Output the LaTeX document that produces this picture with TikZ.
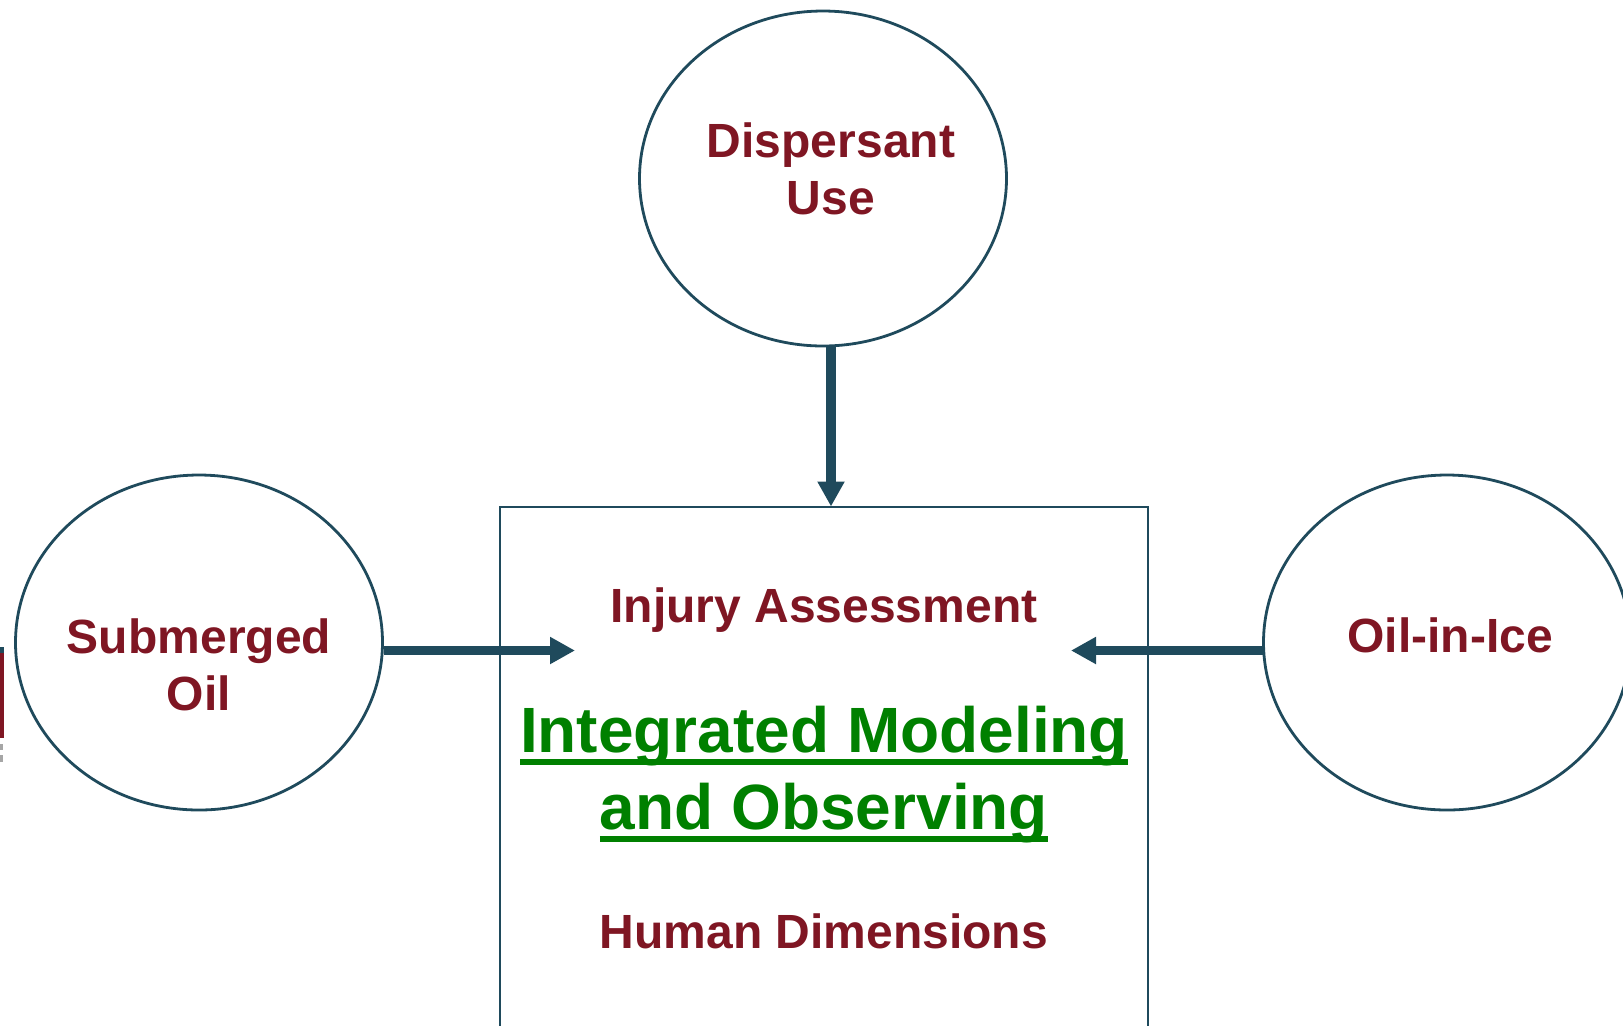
\documentclass[tikz,border=0pt]{standalone}
\usepackage{fontspec}
\setmainfont{Liberation Sans}
\usetikzlibrary{arrows.meta,shapes.geometric}
\definecolor{teal}{HTML}{1F4A5C}
\definecolor{maroon}{HTML}{7F1623}
\definecolor{grn}{HTML}{008000}
\newsavebox{\ulbox}
\newcommand\ulined[1]{\sbox{\ulbox}{#1}\rlap{\rule[-6.3pt]{\wd\ulbox}{2.8pt}}\usebox{\ulbox}}
\tikzset{
  x=0.5pt,y=0.5pt,
  blob/.style={ellipse,draw=teal,line width=1.4pt,inner sep=0pt,minimum width=183.5pt,minimum height=167.5pt},
  panel/.style={draw=teal,line width=1pt},
  conn/.style={draw=teal,line width=4.6pt,-{Triangle[length=12.5pt,width=12.8pt]},shorten <=0pt},
  lab/.style={font=\fontsize{24}{28.5}\selectfont\bfseries,text=maroon,anchor=base,inner sep=0pt,align=center},
  big/.style={font=\fontsize{32}{38}\selectfont\bfseries,text=grn,anchor=base,inner sep=0pt,align=center}
}
\begin{document}
\begin{tikzpicture}
\useasboundingbox (0,0) rectangle (1623,-1025);
\begin{scope}
\clip (0,0) rectangle (1623,-1025);
\fill[maroon] (0,-653) rectangle (4,-738);
\fill[teal] (0,-647) rectangle (4,-653);
\fill[black!35] (0,-744) rectangle (3,-750);
\fill[black!35] (0,-755) rectangle (2.5,-762);
\node[blob] (top) at (823,-178.5) {};
\node[blob] (sub) at (199,-642.5) {};
\node[blob] (ice) at (1447,-642.5) {};
\draw[panel] (500,-506.5) rectangle (1148,-1040);
\coordinate (boxn) at (831,-506.5);
\coordinate (topout) at (831,-346.5);
\coordinate (subout) at (383.5,-650.5);
\coordinate (subin) at (575,-650.5);
\coordinate (iceout) at (1262.5,-650.5);
\coordinate (icein) at (1071,-650.5);
\node[lab] (t1) at (831,-157) {Dispersant};
\node[lab] (t2) at (831,-214) {Use};
\node[lab] (s1) at (199,-653) {Submerged};
\node[lab] (s2) at (199,-710) {Oil};
\node[lab] (i1) at (1450,-652) {Oil-in-Ice};
\node[lab] (b1) at (824,-622) {Injury Assessment};
\node[big] (b2) at (824,-752) {\ulined{Integrated Modeling}};
\node[big] (b3) at (824,-829) {\ulined{and Observing}};
\node[lab] (b4) at (824,-948) {Human Dimensions};
\draw[conn] (topout) -- (boxn);
\draw[conn] (subout) -- (subin);
\draw[conn] (iceout) -- (icein);
\end{scope}
\end{tikzpicture}
\end{document}
